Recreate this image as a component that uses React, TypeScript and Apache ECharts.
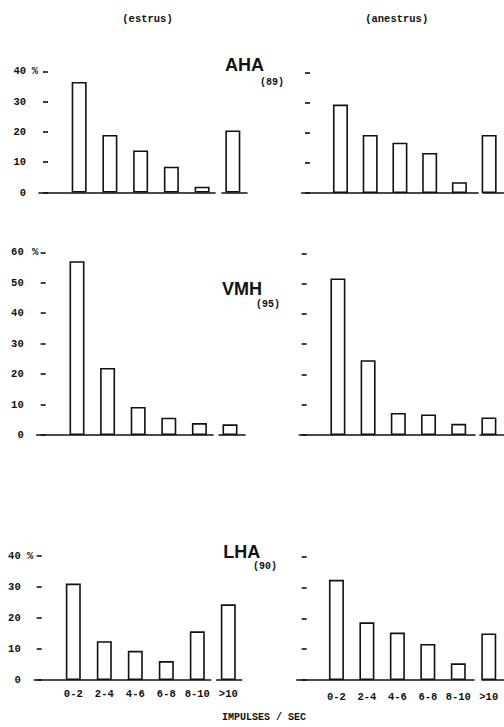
import React, { useEffect, useRef } from "react";
import * as echarts from "echarts";

// ---- data ----
const categories = ["0-2", "2-4", "4-6", "6-8", "8-10", ">10"];
const ahaEstrus = [36.5, 19, 13.9, 8.5, 1.9, 20.5];
const ahaAnestrus = [29.4, 19.3, 16.7, 13.3, 3.6, 19.3];
const vmhEstrus = [57.1, 22, 9.2, 5.7, 3.9, 3.5];
const vmhAnestrus = [51.7, 24.7, 7.3, 6.8, 3.7, 5.8];
const lhaEstrus = [31.1, 12.5, 9.4, 6.1, 15.7, 24.4];
const lhaAnestrus = [32.5, 18.7, 15.4, 11.7, 5.4, 15.1];
const yMaxAHA = 40;
const yMaxVMH = 60;
const yMaxLHA = 40;
const yInterval = 10;
const columnTitles = ["(estrus)", "(anestrus)"];
const regionNames = ["AHA", "VMH", "LHA"];
const regionCounts = ["(89)", "(95)", "(90)"];
const percentSign = "%";
const xAxisTitle = "IMPULSES / SEC";

// ---- layout (positions / sizes only) ----
const panels = [
  { data: ahaEstrus, max: yMaxAHA, left: 63.8, width: 184.4, top: 71.3, bottom: 192.5, tickX: 48, yLabels: true, labelMargin: 22, pctPad: 10, xLabels: false, xMargin: 8, base: [[39, 215], [222, 247]] },
  { data: ahaAnestrus, max: yMaxAHA, left: 325.6, width: 184.8, top: 72.7, bottom: 193, tickX: 310, yLabels: false, labelMargin: 22, pctPad: 0, xLabels: false, xMargin: 8, base: [[301.7, 478], [483, 512]] },
  { data: vmhEstrus, max: yMaxVMH, left: 61.7, width: 183.6, top: 252.3, bottom: 435, tickX: 45.7, yLabels: true, labelMargin: 22, pctPad: 7.4, xLabels: false, xMargin: 8, base: [[36.7, 213], [219, 245]] },
  { data: vmhAnestrus, max: yMaxVMH, left: 322.8, width: 186, top: 253.3, bottom: 435, tickX: 306.7, yLabels: false, labelMargin: 22, pctPad: 0, xLabels: false, xMargin: 8, base: [[299.3, 475], [480, 512]] },
  { data: lhaEstrus, max: yMaxLHA, left: 57.8, width: 186, top: 556, bottom: 680, tickX: 41.7, yLabels: true, labelMargin: 21, pctPad: 8.4, xLabels: true, xMargin: 8, base: [[34.3, 210.7], [216.7, 241.7]] },
  { data: lhaAnestrus, max: yMaxLHA, left: 321.2, width: 187.2, top: 556.7, bottom: 680, tickX: 306.7, yLabels: false, labelMargin: 22, pctPad: 0, xLabels: true, xMargin: 11, base: [[296.7, 474], [482, 512]] },
];

const INK = "#111";
const MONO = '"Liberation Mono", "DejaVu Sans Mono", monospace';
const SANS = '"Liberation Sans", Arial, sans-serif';

function buildOption() {
  const grid: any[] = [];
  const xAxis: any[] = [];
  const yAxis: any[] = [];
  const series: any[] = [];

  panels.forEach((p, i) => {
    grid.push({ left: p.left, width: p.width, top: p.top, height: p.bottom - p.top, containLabel: false });
    xAxis.push({
      type: "category",
      gridIndex: i,
      data: categories,
      axisLine: { show: false },
      axisTick: { show: false },
      splitLine: { show: false },
      axisLabel: {
        show: p.xLabels,
        margin: p.xMargin,
        fontFamily: MONO,
        fontWeight: "bold",
        fontSize: 10.5,
        color: INK,
        interval: 0,
      },
    });
    yAxis.push({
      type: "value",
      gridIndex: i,
      min: 0,
      max: p.max,
      interval: yInterval,
      offset: p.left - p.tickX,
      axisLine: { show: false },
      axisTick: { show: true, length: 5, lineStyle: { color: INK, width: 1.6 } },
      splitLine: { show: false },
      axisLabel: {
        show: p.yLabels,
        margin: p.labelMargin,
        fontFamily: MONO,
        fontWeight: "bold",
        fontSize: 10.5,
        color: INK,
      },
      name: p.yLabels ? percentSign : "",
      nameLocation: "end",
      nameGap: 0,
      nameTextStyle: {
        fontFamily: MONO,
        fontWeight: "bold",
        fontSize: 10.5,
        color: INK,
        align: "right",
        verticalAlign: "middle",
        padding: [0, p.pctPad, 0, 0],
      },
    });
    series.push({
      type: "bar",
      xAxisIndex: i,
      yAxisIndex: i,
      data: p.data,
      barWidth: 15,
      silent: true,
      itemStyle: { color: "#fff", borderColor: INK, borderWidth: 1.6 },
    });
  });

  // baselines (axis lines with a break before the ">10" bar)
  panels.forEach((p) => {
    p.base.forEach(([x1, x2]) => {
      const gi = grid.length;
      grid.push({ left: x1, width: x2 - x1, top: p.bottom - 10, height: 10 });
      xAxis.push({
        type: "value",
        gridIndex: gi,
        min: 0,
        max: 1,
        axisLine: { show: true, lineStyle: { color: INK, width: 1.6 } },
        axisTick: { show: false },
        axisLabel: { show: false },
        splitLine: { show: false },
      });
      yAxis.push({ type: "value", gridIndex: gi, min: 0, max: 1, show: false });
    });
  });

  const txt = (text: string, x: number, y: number, font: string) => ({
    type: "text",
    x,
    y,
    silent: true,
    style: { text, fill: INK, font, textAlign: "center", textVerticalAlign: "middle" },
  });

  const graphic = [
    txt(columnTitles[0], 147.5, 18.5, `bold 10.5px ${MONO}`),
    txt(columnTitles[1], 396.7, 18.5, `bold 10.5px ${MONO}`),
    txt(regionNames[0], 244.5, 64.5, `bold 18px ${SANS}`),
    txt(regionCounts[0], 272, 82, `bold 10px ${MONO}`),
    txt(regionNames[1], 242, 289, `bold 18px ${SANS}`),
    txt(regionCounts[1], 268, 304, `bold 10px ${MONO}`),
    txt(regionNames[2], 241.7, 551.5, `bold 18px ${SANS}`),
    txt(regionCounts[2], 265, 566, `bold 10px ${MONO}`),
    txt(xAxisTitle, 264, 717, `bold 10px ${MONO}`),
  ];

  return {
    animation: false,
    backgroundColor: "#fff",
    grid,
    xAxis,
    yAxis,
    series,
    graphic,
  };
}

export default function App() {
  const ref = useRef<HTMLDivElement>(null);
  useEffect(() => {
    if (!ref.current) return;
    const chart = echarts.init(ref.current, undefined, { renderer: "svg" });
    chart.setOption(buildOption() as any);
    return () => chart.dispose();
  }, []);
  return (
    <div
      ref={ref}
      style={{ position: "absolute", left: 0, top: 0, width: 504, height: 727, overflow: "hidden", background: "#fff" }}
    />
  );
}
